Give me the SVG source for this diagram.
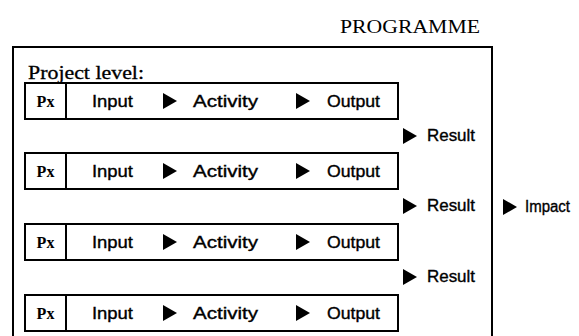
<svg xmlns="http://www.w3.org/2000/svg" width="579" height="336" viewBox="0 0 579 336">
<style>
.box{fill:#fff;stroke:#000;stroke-width:2}
.t{font-family:"Liberation Sans",Arial,sans-serif;font-size:16px;fill:#000;stroke:#000;stroke-width:0.35}
.s{font-family:"Liberation Serif","Times New Roman",serif;fill:#000}
.px{font-family:"Liberation Serif","Times New Roman",serif;font-size:16px;font-weight:bold;fill:#000}
.arr{fill:#000}
</style>
<defs>
<polygon id="tri" points="0,-8 14,0 0,8"/>
</defs>
<rect width="579" height="336" fill="#fff"/>
<g id="programme">
<rect class="box" x="13" y="47" width="479" height="300"/>
<text class="s" x="340" y="33" font-size="19" textLength="140" lengthAdjust="spacingAndGlyphs">PROGRAMME</text>
</g>
<g id="project-level">
<text class="s" x="28" y="79" font-size="19" stroke="#000" stroke-width="0.3" textLength="116" lengthAdjust="spacingAndGlyphs">Project level:</text>
</g>
<g id="row1">
<rect class="box" x="25" y="83" width="373" height="36"/>
<line x1="66" y1="83" x2="66" y2="119" stroke="#000" stroke-width="2"/>
<text class="px" x="45.5" y="107" text-anchor="middle">Px</text>
<text class="t" x="92" y="107" textLength="41" lengthAdjust="spacingAndGlyphs">Input</text>
<text class="t" x="193" y="107" textLength="65" lengthAdjust="spacingAndGlyphs">Activity</text>
<text class="t" x="327" y="107" textLength="53" lengthAdjust="spacingAndGlyphs">Output</text>
</g>
<g id="row2">
<rect class="box" x="25" y="153" width="373" height="36"/>
<line x1="66" y1="153" x2="66" y2="189" stroke="#000" stroke-width="2"/>
<text class="px" x="45.5" y="177" text-anchor="middle">Px</text>
<text class="t" x="92" y="177" textLength="41" lengthAdjust="spacingAndGlyphs">Input</text>
<text class="t" x="193" y="177" textLength="65" lengthAdjust="spacingAndGlyphs">Activity</text>
<text class="t" x="327" y="177" textLength="53" lengthAdjust="spacingAndGlyphs">Output</text>
</g>
<g id="row3">
<rect class="box" x="25" y="224" width="373" height="36"/>
<line x1="66" y1="224" x2="66" y2="260" stroke="#000" stroke-width="2"/>
<text class="px" x="45.5" y="248" text-anchor="middle">Px</text>
<text class="t" x="92" y="248" textLength="41" lengthAdjust="spacingAndGlyphs">Input</text>
<text class="t" x="193" y="248" textLength="65" lengthAdjust="spacingAndGlyphs">Activity</text>
<text class="t" x="327" y="248" textLength="53" lengthAdjust="spacingAndGlyphs">Output</text>
</g>
<g id="row4">
<rect class="box" x="25" y="295" width="373" height="36"/>
<line x1="66" y1="295" x2="66" y2="331" stroke="#000" stroke-width="2"/>
<text class="px" x="45.5" y="319" text-anchor="middle">Px</text>
<text class="t" x="92" y="319" textLength="41" lengthAdjust="spacingAndGlyphs">Input</text>
<text class="t" x="193" y="319" textLength="65" lengthAdjust="spacingAndGlyphs">Activity</text>
<text class="t" x="327" y="319" textLength="53" lengthAdjust="spacingAndGlyphs">Output</text>
</g>
<g id="result1"><text class="t" x="427" y="141" font-size="15" textLength="48" lengthAdjust="spacingAndGlyphs">Result</text></g>
<g id="result2"><text class="t" x="427" y="211" font-size="15" textLength="48" lengthAdjust="spacingAndGlyphs">Result</text></g>
<g id="result3"><text class="t" x="427" y="282" font-size="15" textLength="48" lengthAdjust="spacingAndGlyphs">Result</text></g>
<g id="impact"><text class="t" x="525" y="212" font-size="16" textLength="45" lengthAdjust="spacingAndGlyphs">Impact</text></g>
<g id="connectors" class="arr">
<use href="#tri" x="163" y="101"/><use href="#tri" x="296" y="101"/>
<use href="#tri" x="163" y="171"/><use href="#tri" x="296" y="171"/>
<use href="#tri" x="163" y="242"/><use href="#tri" x="296" y="242"/>
<use href="#tri" x="163" y="313"/><use href="#tri" x="296" y="313"/>
<use href="#tri" x="403" y="136"/>
<use href="#tri" x="403" y="206"/>
<use href="#tri" x="403" y="277"/>
<use href="#tri" x="503" y="207"/>
</g>
</svg>
